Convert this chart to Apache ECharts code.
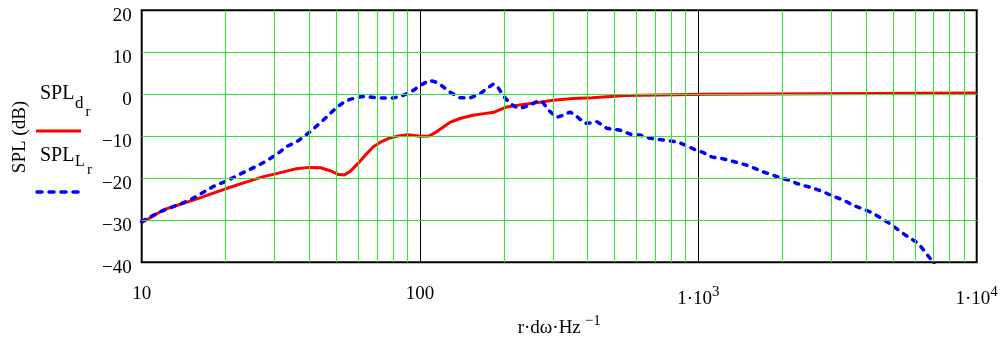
<!DOCTYPE html>
<html>
<head>
<meta charset="utf-8">
<script src="https://cdn.jsdelivr.net/npm/echarts@6/dist/echarts.min.js"></script>
<style>
html,body{margin:0;padding:0;background:#fff;}
#c{width:1003px;height:337px;}
</style>
</head>
<body>
<div id="c"></div>
<script>
// ---- data ----
var freqD = [10, 12, 15.8, 20, 24, 27.4, 30, 36, 40, 44, 47.5, 51, 53.5, 56, 60, 64, 68, 73, 78, 84, 90, 95, 100, 108, 113, 118, 128, 140, 155, 170, 184, 195, 205, 235, 270, 300, 355, 415, 420, 550, 555, 1080, 1090, 10000];
var splD  = [-30.6, -27.5, -24.9, -22.5, -20.8, -19.6, -19.0, -17.7, -17.4, -17.5, -18.2, -19.1, -19.2, -18.4, -16.4, -14.3, -12.5, -11.2, -10.4, -9.9, -9.6, -9.8, -10.0, -9.9, -9.2, -8.3, -6.7, -5.7, -5.0, -4.6, -4.3, -3.6, -3.0, -2.4, -1.9, -1.4, -1.0, -0.8, -0.5, -0.3, -0.1, 0.0, 0.25, 0.3];

var freqL = [10, 11.6, 14.9, 18, 20.2, 22.6, 25.9, 28.5, 31.4, 33, 36.1, 40.3, 45, 50, 53, 56, 60, 63, 72, 80, 86, 90, 95, 100, 108, 113, 118, 128, 139, 151, 164, 175, 183, 190, 200, 210, 220, 229, 248, 265, 275, 290, 309, 330, 346, 365, 390, 410, 432, 469, 520, 570, 615, 664, 750, 836, 905, 980, 1036, 1115, 1235, 1336, 1482, 1589, 1697, 1844, 1989, 2166, 2251, 2594, 2813, 3048, 3331, 3583, 3945, 4237, 4848, 5540, 6174, 6880, 7100];
var splL  = [-30.3, -28.0, -25.2, -22.0, -20.6, -19.0, -17.1, -15.6, -13.7, -12.5, -11.3, -8.9, -6.1, -3.2, -2.0, -1.2, -0.7, -0.5, -0.9, -0.9, -0.4, 0.2, 1.0, 2.1, 3.3, 3.0, 2.4, 0.5, -0.8, -0.9, 0.1, 1.5, 2.4, 1.8, -0.5, -2.1, -3.0, -3.3, -2.6, -1.6, -1.8, -3.8, -5.5, -4.9, -4.2, -5.2, -6.9, -6.8, -6.5, -8.1, -8.5, -9.5, -9.7, -10.4, -10.9, -11.3, -12.2, -13.3, -13.8, -14.9, -15.4, -16.0, -16.8, -17.6, -18.4, -19.2, -20.0, -20.6, -21.2, -22.4, -23.2, -24.3, -25.2, -26.4, -27.4, -28.3, -30.7, -33.5, -35.5, -39.5, -41.0];

// tick labels
var xTickValues = [10, 100, 1000, 10000];
var xTickLabels = ['10', '100', '1\u00B710{s|3}', '1\u00B710{s|4}'];
var yTickValues = [20, 10, 0, -10, -20, -30, -40];
var yTickLabels = ['20', '10', '0', '\u221210', '\u221220', '\u221230', '\u221240'];
var minorMult = [2, 3, 4, 5, 6, 7, 8, 9];
var minorDecades = [10, 100, 1000];

function zip(a, b) { return a.map(function (v, i) { return [v, b[i]]; }); }

var minorLines = [];
minorDecades.forEach(function (d) { minorMult.forEach(function (m) { minorLines.push({ xAxis: d * m }); }); });
var hLines = [10, 0, -10, -20, -30].map(function (v) { return { yAxis: v }; });

var FONT = 'Liberation Serif';
var chart = echarts.init(document.getElementById('c'), null, { renderer: 'canvas' });
chart.setOption({
  animation: false,
  backgroundColor: '#fff',
  grid: { left: 141.7, right: 26.3, top: 10.3, bottom: 74.7, show: true, borderColor: '#000', borderWidth: 2, backgroundColor: 'transparent', containLabel: false, outerBoundsMode: 'none' },
  xAxis: {
    type: 'log', logBase: 10, min: 10, max: 10000,
    axisLine: { show: false },
    axisTick: { show: false },
    splitLine: { show: true, showMinLine: false, showMaxLine: false, lineStyle: { color: '#000', width: 1 } },
    axisLabel: {
      margin: 22, fontFamily: FONT, fontSize: 19, color: '#000',
      formatter: function (v) { var i = xTickValues.indexOf(Math.round(v)); return i >= 0 ? xTickLabels[i] : ''; },
      rich: { s: { fontFamily: FONT, fontSize: 15, color: '#000', padding: [0, 0, 14, 0] } }
    },
    name: 'r\u00B7d\u03C9\u00B7Hz{s|\u22121}',
    nameLocation: 'middle', nameGap: 47,
    nameTextStyle: { fontFamily: FONT, fontSize: 19, color: '#000',
      rich: { s: { fontFamily: FONT, fontSize: 15, color: '#000', padding: [0, 0, 14, 4] } } }
  },
  yAxis: {
    type: 'value', min: -40, max: 20, interval: 10,
    axisLine: { show: false },
    axisTick: { show: false },
    splitLine: { show: false },
    axisLabel: {
      margin: 10, color: '#000',
      formatter: function (v) { var i = yTickValues.indexOf(v); return i >= 0 ? '{a|' + yTickLabels[i] + '}' : ''; },
      rich: { a: { fontFamily: FONT, fontSize: 19, color: '#000', padding: [12, 0, 0, 0] } }
    }
  },
  graphic: [
    { type: 'text', x: 20, y: 137, rotation: Math.PI / 2, style: { text: 'SPL (dB)', font: '19px "Liberation Serif"', fill: '#000', align: 'center', verticalAlign: 'middle' } },
    { type: 'text', x: 40, y: 94, style: { text: 'SPL', font: '20px "Liberation Serif"', fill: '#000', align: 'left', verticalAlign: 'middle' } },
    { type: 'text', x: 75, y: 104, style: { text: 'd', font: '17px "Liberation Serif"', fill: '#000', align: 'left', verticalAlign: 'middle' } },
    { type: 'text', x: 85.5, y: 112, style: { text: 'r', font: '15px "Liberation Serif"', fill: '#000', align: 'left', verticalAlign: 'middle' } },
    { type: 'line', shape: { x1: 36, y1: 131, x2: 81, y2: 131 }, style: { stroke: '#ff0000', lineWidth: 3 } },
    { type: 'text', x: 40, y: 155.5, style: { text: 'SPL', font: '20px "Liberation Serif"', fill: '#000', align: 'left', verticalAlign: 'middle' } },
    { type: 'text', x: 75, y: 162, style: { text: 'L', font: '16px "Liberation Serif"', fill: '#000', align: 'left', verticalAlign: 'middle' } },
    { type: 'text', x: 87, y: 170.5, style: { text: 'r', font: '15px "Liberation Serif"', fill: '#000', align: 'left', verticalAlign: 'middle' } },
    { type: 'line', shape: { x1: 37, y1: 192, x2: 81, y2: 192 }, style: { stroke: '#0000ff', lineWidth: 3.5, lineDash: [5, 7], lineCap: 'round' } }
  ],
  series: [
    {
      name: 'grid', type: 'line', data: [], z: 1, silent: true,
      markLine: {
        silent: true, symbol: ['none', 'none'], label: { show: false }, animation: false,
        lineStyle: { color: '#33e633', width: 1, type: 'solid' },
        emphasis: { disabled: true },
        data: minorLines.concat(hLines)
      }
    },
    {
      name: 'SPL_d', type: 'line', data: zip(freqD, splD), showSymbol: false, symbol: 'none', z: 3,
      lineStyle: { color: '#ff0000', width: 3 }, clip: true
    },
    {
      name: 'SPL_L', type: 'line', data: zip(freqL, splL), showSymbol: false, symbol: 'none', z: 4,
      lineStyle: { color: '#0000ff', width: 3.5, type: [4, 7], cap: 'round' }, clip: true
    }
  ]
});
</script>
</body>
</html>
